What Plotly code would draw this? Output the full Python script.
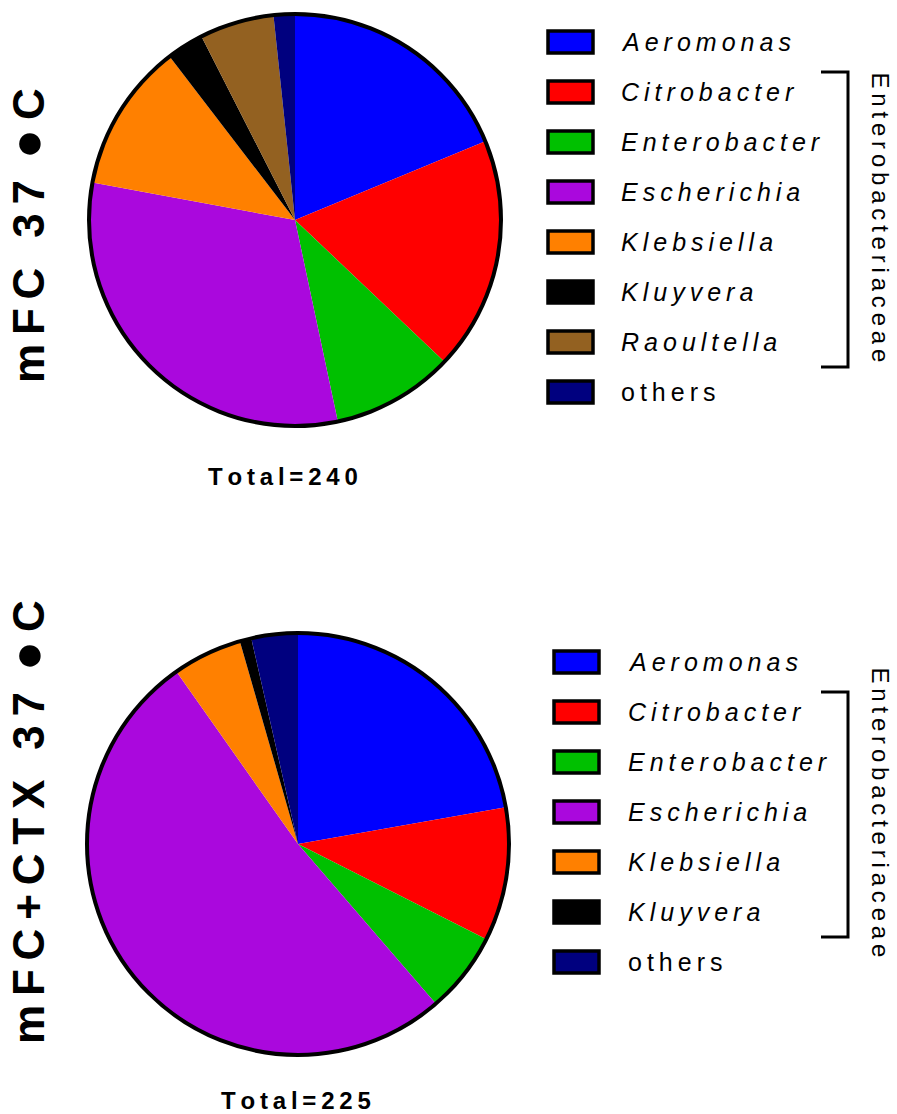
import plotly.graph_objects as go

# Genus counts per isolation medium
genera_top = ["Aeromonas", "Citrobacter", "Enterobacter", "Escherichia",
              "Klebsiella", "Kluyvera", "Raoultella", "others"]
counts_top = [45, 44, 23, 75, 28, 7, 14, 4]

genera_bottom = ["Aeromonas", "Citrobacter", "Enterobacter", "Escherichia",
                 "Klebsiella", "Kluyvera", "others"]
counts_bottom = [50, 23, 14, 116, 12, 2, 8]

genus_colors = {
    "Aeromonas": "#0000FF",
    "Citrobacter": "#FF0000",
    "Enterobacter": "#00C000",
    "Escherichia": "#AA08DD",
    "Klebsiella": "#FF8000",
    "Kluyvera": "#000000",
    "Raoultella": "#936121",
    "others": "#00007F",
}

W, H = 897, 1114
FONT = "Liberation Sans, Arial, sans-serif"
THIN = "\u2009"


def spaced(s):
    """Widen letter spacing with thin spaces."""
    return THIN.join(s)


def px(x):
    return x / W


def py(y):
    return 1 - y / H


def medium_label(name):
    """Bold vertical label: medium name, temperature and an enlarged degree dot."""
    return ("<b>" + spaced(name + " 37") + THIN + " "
            + '<span style="font-size:50px">\u25CF</span>' + THIN + "C</b>")


fig = go.Figure()
shapes = []
annotations = []

panels = [
    dict(genera=genera_top, counts=counts_top, cx=295, cy=220, r=206,
         medium="mFC", label_y=236, total_y=477, total_x=283,
         legend_x=546, legend_y0=42, text_x=619, ent_x=880),
    dict(genera=genera_bottom, counts=counts_bottom, cx=298, cy=844, r=211,
         medium="mFC+CTX", label_y=822, total_y=1100, total_x=296,
         legend_x=552, legend_y0=662, text_x=626, ent_x=880),
]

for p in panels:
    cx, cy, r = p["cx"], p["cy"], p["r"]
    fig.add_trace(go.Pie(
        labels=p["genera"],
        values=p["counts"],
        sort=False,
        direction="clockwise",
        rotation=0,
        textinfo="none",
        marker=dict(colors=[genus_colors[g] for g in p["genera"]],
                    line=dict(width=0)),
        domain=dict(x=[px(cx - r), px(cx + r)], y=[py(cy + r), py(cy - r)]),
        showlegend=False,
    ))
    # outer rim of the pie
    shapes.append(dict(type="circle", xref="paper", yref="paper",
                       x0=px(cx - r), x1=px(cx + r), y0=py(cy + r), y1=py(cy - r),
                       line=dict(color="black", width=4), fillcolor="rgba(0,0,0,0)"))

    # vertical panel label
    annotations.append(dict(text=medium_label(p["medium"]),
                            x=px(27), y=py(p["label_y"]), xref="paper", yref="paper",
                            textangle=-90, showarrow=False, xanchor="center", yanchor="middle",
                            font=dict(family=FONT, size=44, color="black")))
    # total count
    total = sum(p["counts"])
    annotations.append(dict(text="<b>" + spaced(f"Total={total}") + "</b>",
                            x=px(p["total_x"]), y=py(p["total_y"]), xref="paper", yref="paper",
                            showarrow=False, xanchor="center", yanchor="middle",
                            font=dict(family=FONT, size=24, color="black")))

    # legend swatches and names
    step = 50
    for i, g in enumerate(p["genera"]):
        yc = p["legend_y0"] + i * step
        shapes.append(dict(type="rect", xref="paper", yref="paper",
                           x0=px(p["legend_x"] + 2), x1=px(p["legend_x"] + 47),
                           y0=py(yc + 11), y1=py(yc - 11),
                           fillcolor=genus_colors[g], line=dict(color="black", width=3.5)))
        name = spaced(g)
        if g != "others":
            name = "<i>" + name + "</i>"
        annotations.append(dict(text=name, x=px(p["text_x"]), y=py(yc),
                                xref="paper", yref="paper", showarrow=False,
                                xanchor="left", yanchor="middle",
                                font=dict(family=FONT, size=25, color="black")))

    # bracket around Enterobacteriaceae genera
    ent = [g for g in p["genera"] if g not in ("Aeromonas", "others")]
    first = p["legend_y0"] + p["genera"].index(ent[0]) * step
    last = p["legend_y0"] + p["genera"].index(ent[-1]) * step
    top, bot = first - 20, last + 25
    bx0, bx1 = 821, 848
    shapes.append(dict(type="path", xref="paper", yref="paper",
                       path=f"M {px(bx0)},{py(top)} L {px(bx1)},{py(top)} "
                            f"L {px(bx1)},{py(bot)} L {px(bx0)},{py(bot)}",
                       line=dict(color="black", width=3)))
    annotations.append(dict(text=spaced("Enterobacteriaceae"),
                            x=px(p["ent_x"]), y=py((top + bot) / 2 - 2),
                            xref="paper", yref="paper", showarrow=False,
                            textangle=90, xanchor="center", yanchor="middle",
                            font=dict(family=FONT, size=24, color="black")))

fig.update_layout(
    width=W, height=H,
    margin=dict(l=0, r=0, t=0, b=0),
    paper_bgcolor="white",
    plot_bgcolor="white",
    shapes=shapes,
    annotations=annotations,
)

fig.write_html("out.html")
